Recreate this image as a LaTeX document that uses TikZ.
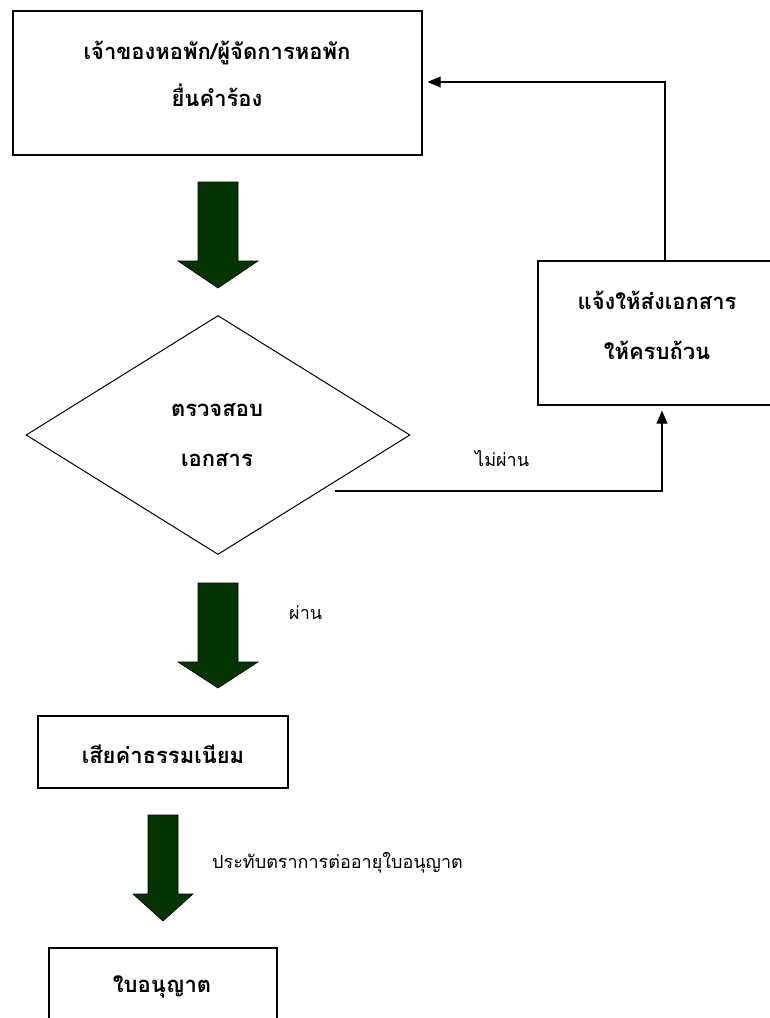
\documentclass[tikz,border=0pt]{standalone}
\usepackage{fontspec}
\newfontfamily\thai[Script=Thai]{Loma}
\usetikzlibrary{arrows.meta,shapes.geometric,calc}
\definecolor{arrowgreen}{RGB}{5,52,5}
\tikzset{
  box/.style={draw, line width=1.3pt, inner sep=0pt},
  boxtext/.style={font=\thai\bfseries\fontsize{22}{47}\selectfont, align=center, inner sep=0pt},
  lbl/.style={font=\thai\fontsize{18}{22}\selectfont, inner sep=0pt, anchor=west},
  conn/.style={line width=1.2pt, -{Triangle[length=13pt,width=11pt]}},
  blockarrow/.style={fill=arrowgreen, draw=black, line width=0.6pt}
}
\newcommand{\greenarrow}[6]{% cx, top, headstart, tip, half shaft, half head
  \fill[blockarrow] (#1-#5,#2) -- (#1+#5,#2) -- (#1+#5,#3) -- (#1+#6,#3) -- (#1,#4) -- (#1-#6,#3) -- (#1-#5,#3) -- cycle;}
\begin{document}
\begin{tikzpicture}[x=1pt,y=-1pt]
\useasboundingbox (0,0) rectangle (770,1018);
\clip (0,0) rectangle (770,1018);
% boxes
\node[box, minimum width=409pt, minimum height=144pt] (top) at (217.5,83) {};
\node[boxtext] (toptext) at (217,74) {เจ้าของหอพัก/ผู้จัดการหอพัก\\ยื่นคำร้อง};
\node[diamond, draw, line width=1pt, minimum width=384pt, minimum height=239pt, inner sep=0pt] (chk) at (218,435) {};
\node[boxtext, font=\thai\bfseries\fontsize{22}{50}\selectfont] (chktext) at (217,435) {ตรวจสอบ\\เอกสาร};
\node[box, minimum width=238pt, minimum height=144pt] (notify) at (657,333) {};
\node[boxtext, font=\thai\bfseries\fontsize{22}{50}\selectfont] (notifytext) at (657,325) {แจ้งให้ส่งเอกสาร\\ให้ครบถ้วน};
\node[box, minimum width=250pt, minimum height=72pt] (fee) at (163,752) {};
\node[boxtext] (feetext) at (163,754) {เสียค่าธรรมเนียม};
\node[box, minimum width=228pt, minimum height=72pt] (lic) at (163,984) {};
\node[boxtext] (lictext) at (162,987) {ใบอนุญาต};
% green block arrows
\greenarrow{218}{182}{261}{288}{20}{40}
\greenarrow{218}{583}{662}{688}{20}{40}
\greenarrow{163}{815}{894}{921}{15}{30}
% labels
\node[lbl] (fail) at (475,458) {ไม่ผ่าน};
\node[lbl] (pass) at (289,613) {ผ่าน};
\node[lbl] (stamp) at (212,863) {ประทับตราการต่ออายุใบอนุญาต};
% connectors
\coordinate (failstart) at (335,491);
\coordinate (failend) at ($(notify.south)+(5,5)$);
\draw[conn] (failstart) -| (failend);
\coordinate (backstart) at ($(notify.north)+(8,0)$);
\coordinate (backend) at ($(top.east)+(5,-1)$);
\draw[conn] (backstart) |- (backend);
\end{tikzpicture}
\end{document}
